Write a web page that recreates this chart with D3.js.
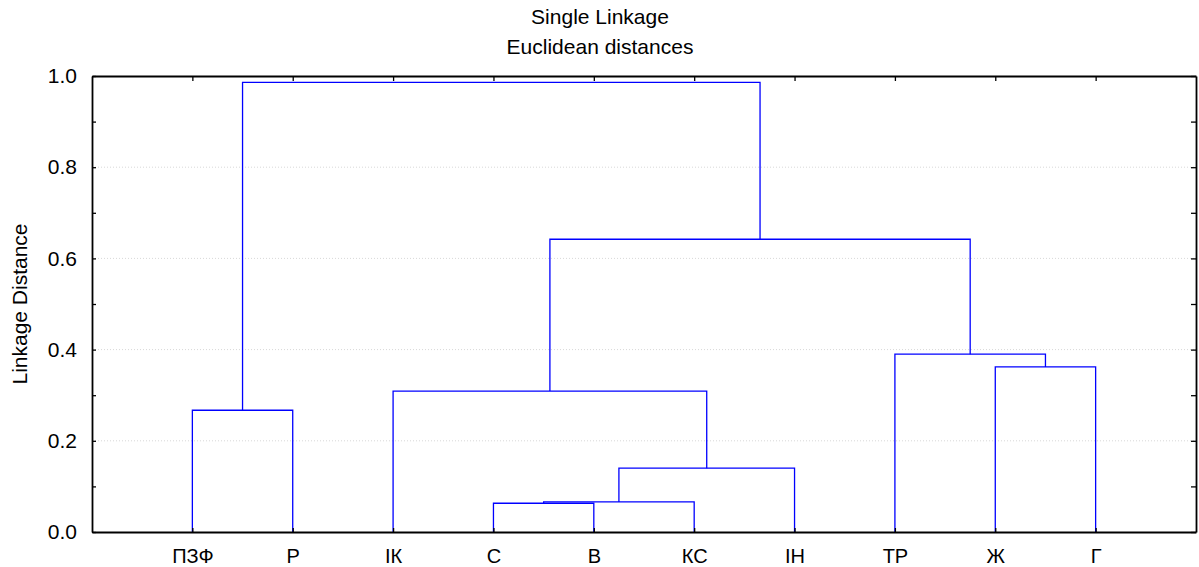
<!DOCTYPE html>
<html>
<head>
<meta charset="utf-8">
<script src="https://cdn.jsdelivr.net/npm/d3@7"></script>
<style>
  body { margin: 0; background: #fff; overflow: hidden; }
  svg { display: block; }
  text { font-family: "Liberation Sans", Arial, sans-serif; }
</style>
</head>
<body>
<div id="chart"></div>
<script>
// leaves in the drawn order
var leaves = ['ПЗФ', 'Р', 'ІК', 'С', 'В', 'КС', 'ІН', 'ТР', 'Ж', 'Г'];

// merges: [left, right, linkage distance]; numbers >= 10 are earlier merges
var merges = [
  [3, 4, 0.063],     // 10: С + В
  [10, 5, 0.066],    // 11: + КС
  [11, 6, 0.140],    // 12: + ІН
  [0, 1, 0.267],     // 13: ПЗФ + Р
  [2, 12, 0.309],    // 14: ІК + ...
  [8, 9, 0.362],     // 15: Ж + Г
  [7, 15, 0.390],    // 16: ТР + ...
  [14, 16, 0.642],   // 17
  [13, 17, 0.986]    // 18: all
];

var yTicks = [0.0, 0.2, 0.4, 0.6, 0.8, 1.0];

var svgWidth = 1199, svgHeight = 567;
var margin = { top: 76, left: 92, right: 3, bottom: 35 };
var width = svgWidth - margin.left - margin.right;
var height = svgHeight - margin.top - margin.bottom;
var fontSize = '21px';

var svg = d3.select('#chart').append('svg')
  .attr('width', svgWidth)
  .attr('height', svgHeight);

var g = svg.append('g')
  .attr('transform', `translate(${margin.left},${margin.top})`);

var x = d3.scaleLinear().domain([0, leaves.length + 1]).range([0, width]);
var y = d3.scaleLinear().domain([0, 1]).range([height, 0]);

// gridlines
g.selectAll('.grid')
  .data(yTicks.filter(d => d > 0 && d < 1))
  .enter().append('line')
  .attr('x1', 0).attr('x2', width)
  .attr('y1', d => y(d)).attr('y2', d => y(d))
  .attr('stroke', '#d8d8d8')
  .attr('stroke-dasharray', '1,2');

// node positions
var nodes = leaves.map((name, i) => ({ x: x(i + 1), h: 0 }));
merges.forEach(function (m) {
  var a = nodes[m[0]], b = nodes[m[1]];
  nodes.push({ x: (a.x + b.x) / 2, h: m[2] });
});

var links = g.append('g');
merges.forEach(function (m) {
  var a = nodes[m[0]], b = nodes[m[1]];
  var p = `M${a.x},${y(a.h)}V${y(m[2])}H${b.x}V${y(b.h)}`;
  links.append('path')
    .attr('d', p)
    .attr('fill', 'none')
    .attr('stroke', '#0000ff')
    .attr('stroke-width', 1.3);
});

// axes
var catTicks = d3.range(1, leaves.length + 1);

var bottomAxis = d3.axisBottom(x).tickValues(catTicks)
  .tickFormat(d => leaves[d - 1]).tickSizeInner(-4).tickSizeOuter(0).tickPadding(17);
var topAxis = d3.axisTop(x).tickValues(catTicks)
  .tickFormat('').tickSizeInner(-5).tickSizeOuter(0);
var leftAxis = d3.axisLeft(y).tickValues(d3.range(0, 1.01, 0.1))
  .tickFormat(d => (Math.round(d * 10) % 2 === 0) ? d3.format('.1f')(d) : '')
  .tickSizeInner(-4).tickSizeOuter(0).tickPadding(15);
var rightAxis = d3.axisRight(y).tickValues(d3.range(0, 1.01, 0.1))
  .tickFormat('').tickSizeInner(-5).tickSizeOuter(0);

function styleAxis(sel) {
  sel.select('.domain').attr('stroke', '#000').attr('stroke-width', 1.8);
  sel.selectAll('.tick line').attr('stroke', '#000').attr('stroke-width', 1.3);
  sel.selectAll('.tick text').attr('fill', '#000').style('font-size', fontSize)
    .style('font-family', '"Liberation Sans", Arial, sans-serif');
}

var xAxis = g.append('g').attr('transform', `translate(0,${height})`).call(bottomAxis).call(styleAxis);
xAxis.selectAll('.tick text').style('font-size', '20px');
g.append('g').call(topAxis).call(styleAxis);
g.append('g').call(leftAxis).call(styleAxis);
g.append('g').attr('transform', `translate(${width},0)`).call(rightAxis).call(styleAxis);

// titles
svg.append('text')
  .attr('x', 600).attr('y', 24)
  .attr('text-anchor', 'middle')
  .style('font-size', fontSize)
  .text('Single Linkage');
svg.append('text')
  .attr('x', 600).attr('y', 54)
  .attr('text-anchor', 'middle')
  .style('font-size', fontSize)
  .text('Euclidean distances');

svg.append('text')
  .attr('transform', `translate(27,${margin.top + height / 2}) rotate(-90)`)
  .attr('text-anchor', 'middle')
  .style('font-size', fontSize)
  .text('Linkage Distance');
</script>
</body>
</html>
